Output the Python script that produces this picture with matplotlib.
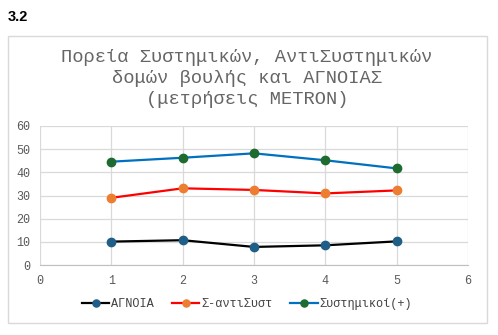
import matplotlib.pyplot as plt
from matplotlib.patches import Rectangle

# measurements (METRON polls)
x = [1, 2, 3, 4, 5]
agnoia = [10.1, 10.7, 7.8, 8.5, 10.2]
anti_syst = [29.0, 33.1, 32.4, 30.9, 32.2]
systimikoi = [44.6, 46.3, 48.2, 45.2, 41.7]
labels = ['ΑΓΝΟΙΑ', 'Σ-αντιΣυστ', 'Συστημικοί(+)']
title_lines = ['Πορεία Συστημικών, ΑντιΣυστημικών',
               'δομών βουλής και ΑΓΝΟΙΑΣ',
               '(μετρήσεις METRON)']

W, H = 498, 335
mono = ['Liberation Mono', 'DejaVu Sans Mono']
grey = '#595959'

fig = plt.figure(figsize=(W / 100, H / 100), dpi=100)
ax = fig.add_axes([40 / W, 1 - 265 / H, 428 / W, 139 / H])

# chart frame
fig.patches.append(Rectangle((8 / W, 1 - 323 / H), 479 / W, 287 / H,
                             transform=fig.transFigure, fill=False,
                             edgecolor='#d9d9d9', linewidth=1))

fig.text(8 / W, 1 - 17 / H, '3.2', fontsize=10.5, fontweight='bold',
         family='Liberation Sans', va='center', ha='left')

for i, line in enumerate(title_lines):
    fig.text(247 / W, 1 - (58 + 20.5 * i) / H, line, fontsize=13.5,
             family=mono, color='#666666', ha='center', va='center')

ax.plot(x, agnoia, color='black', lw=1.6, marker='o', ms=6,
        mfc='#1f5f87', mec='#1f5f87', label=labels[0])
ax.plot(x, anti_syst, color='#ff0000', lw=1.6, marker='o', ms=6,
        mfc='#ed7d31', mec='#ed7d31', label=labels[1])
ax.plot(x, systimikoi, color='#0070c0', lw=1.6, marker='o', ms=6,
        mfc='#1e6b30', mec='#1e6b30', label=labels[2])

ax.set_xlim(0, 6)
ax.set_ylim(0, 60)
ax.set_xticks(range(0, 7))
ax.set_yticks(range(0, 61, 10))
ax.grid(True, color='#d9d9d9', linewidth=0.9)
ax.set_axisbelow(True)
for side in ['top', 'right', 'left']:
    ax.spines[side].set_visible(False)
ax.spines['bottom'].set_color('#bfbfbf')
ax.tick_params(length=0, labelsize=8.5, labelcolor=grey, pad=7)
for lab in ax.get_xticklabels() + ax.get_yticklabels():
    lab.set_family(mono)

leg = fig.legend(loc='center', bbox_to_anchor=(247 / W, 1 - 304 / H), ncol=3,
                 frameon=False, prop={'family': mono, 'size': 8.6},
                 handlelength=2.3, handletextpad=0.15, columnspacing=1.5,
                 markerscale=0.85)
for t in leg.get_texts():
    t.set_color('#404040')

fig.savefig('out.png', dpi=100)
